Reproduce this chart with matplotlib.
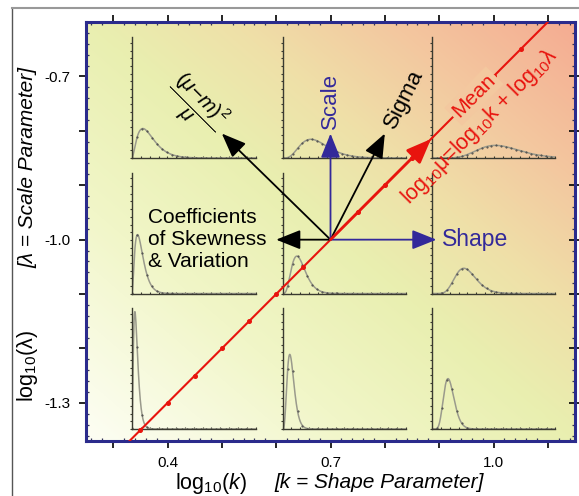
import math

import matplotlib
matplotlib.use("Agg")
import matplotlib.pyplot as plt
import numpy as np
from matplotlib.colors import LinearSegmentedColormap
from matplotlib.lines import Line2D
from matplotlib.ticker import MultipleLocator

plt.rcParams["font.family"] = ["Liberation Sans", "DejaVu Sans"]
plt.rcParams["mathtext.fontset"] = "custom"
plt.rcParams["mathtext.rm"] = "Liberation Sans"
plt.rcParams["mathtext.it"] = "Liberation Sans:italic"
plt.rcParams["mathtext.bf"] = "Liberation Sans:bold"

# --- data ---
LOG_K = [0.4, 0.7, 1.0]          # shape parameter per column of small plots
LOG_LAM = [-0.7, -1.0, -1.3]     # scale parameter per row of small plots
X_TICKS = [0.3, 0.4, 0.5, 0.6, 0.7, 0.8, 0.9, 1.0, 1.1]
X_TICK_LABELS = ["", "0.4", "", "", "0.7", "", "", "1.0", ""]
Y_TICKS = [-1.3, -1.2, -1.1, -1.0, -0.9, -0.8, -0.7]
Y_TICK_LABELS = ["-1.3", "", "", "-1.0", "", "", "-0.7"]

MEAN_LINE_X = [0.33, 1.10]
MEAN_LINE_Y = [-1.37, -0.60]
MEAN_DOT_X = [0.35, 0.40, 0.45, 0.50, 0.55, 0.60, 0.65, 0.75, 0.80, 0.85, 1.00, 1.05]
MEAN_DOT_Y = [-1.35, -1.30, -1.25, -1.20, -1.15, -1.10, -1.05, -0.95, -0.90, -0.85, -0.70, -0.65]

ORIGIN = (0.7, -1.0)
SCALE_TIP = (0.70, -0.805)
SHAPE_TIP = (0.895, -1.0)
SIGMA_TIP = (0.80, -0.805)
SKEW_TIP = (0.60, -1.0)
VAR_TIP = (0.50, -0.805)
MEAN_TIP = (0.885, -0.815)

# small-plot layout (data coords of lower-left corners)
INSET_X0 = [0.335, 0.612, 0.887]
INSET_Y0 = [-0.85, -1.099, -1.348]
INSET_W = 0.227
INSET_H = 0.222

XLIM = (0.25, 1.15)
YLIM = (-1.37, -0.60)

BLUE = "#33299a"
RED = "#e8140e"
FRAME = "#2b2b8c"

bg_cmap = LinearSegmentedColormap.from_list(
    "bg",
    [(0.0, "#fdfef4"), (0.28, "#f1f6c8"), (0.5, "#e9efb0"),
     (0.65, "#efe0a8"), (0.8, "#f3c9a0"), (1.0, "#f5ac92")],
)


def gamma_pdf(x, k, lam):
    return x ** (k - 1) * np.exp(-x / lam) / (math.gamma(k) * lam ** k)


fig = plt.figure(figsize=(5.79, 4.96), dpi=100)
ax = fig.add_axes([86 / 579, 55 / 496, 489 / 579, 419 / 496])

# background gradient
u, v = np.meshgrid(np.linspace(0, 1, 300), np.linspace(0, 1, 300))
ax.imshow((u + v) / 2, cmap=bg_cmap, extent=[*XLIM, *YLIM], origin="lower",
          aspect="auto", zorder=0, interpolation="bilinear")
ax.set_xlim(*XLIM)
ax.set_ylim(*YLIM)

for sp in ax.spines.values():
    sp.set_color(FRAME)
    sp.set_linewidth(2.2)

ax.set_xticks(X_TICKS)
ax.set_xticklabels(X_TICK_LABELS)
ax.set_yticks(Y_TICKS)
ax.set_yticklabels(Y_TICK_LABELS)
ax.xaxis.set_minor_locator(MultipleLocator(0.02))
ax.yaxis.set_minor_locator(MultipleLocator(0.02))
ax.tick_params(axis="x", which="major", direction="out", length=5, width=1.2,
               top=True, bottom=True, pad=6, labelsize=11)
ax.tick_params(axis="y", which="major", direction="out", length=5, width=1.2,
               left=True, right=False, pad=6, labelsize=11)
ax.tick_params(which="minor", direction="in", length=2, width=0.9, color="#333355",
               top=True, right=True)
sec = ax.secondary_yaxis("right")
sec.set_yticks(Y_TICKS)
sec.set_yticklabels([])
sec.tick_params(direction="inout", length=8, width=1.2)
sec.spines["right"].set_visible(False)

# small gamma density plots
xs = np.linspace(0.001, 3.5, 400)
for ci, lk in enumerate(LOG_K):
    for ri, ll in enumerate(LOG_LAM):
        iax = ax.inset_axes([INSET_X0[ci], INSET_Y0[ri], INSET_W, INSET_H],
                            transform=ax.transData, zorder=2)
        iax.patch.set_alpha(0)
        ys = gamma_pdf(xs, 10 ** lk, 10 ** ll)
        iax.plot(xs, ys, color="#9a9a8c", lw=1.1)
        iax.plot(xs[::16], ys[::16], ls="none", marker=".", ms=1.0, color="#444444")
        iax.set_xlim(0, 3.5)
        iax.set_ylim(0, 6.3)
        for s in ("top", "right"):
            iax.spines[s].set_visible(False)
        for s in ("left", "bottom"):
            iax.spines[s].set_color("#3a3a30")
            iax.spines[s].set_linewidth(1.0)
        iax.xaxis.set_major_locator(MultipleLocator(0.25))
        iax.yaxis.set_major_locator(MultipleLocator(0.4))
        iax.tick_params(length=1.5, width=0.8, color="#3a3a30",
                        labelbottom=False, labelleft=False)
        iax.tick_params(axis="x", direction="in")

# mean line with dots
ax.plot(MEAN_LINE_X, MEAN_LINE_Y, color=RED, lw=1.5, zorder=3)
ax.plot(MEAN_DOT_X, MEAN_DOT_Y, ls="none", marker="o", ms=2.6, color=RED, zorder=3)

# arrows
def arrow(tip, color, lw=1.3, ms=20):
    ax.annotate("", xy=tip, xytext=ORIGIN, zorder=5,
                arrowprops=dict(arrowstyle="-|>,head_length=0.75,head_width=0.3",
                                color=color, lw=lw, mutation_scale=ms,
                                shrinkA=0, shrinkB=0))


arrow(VAR_TIP, "black")
arrow(SKEW_TIP, "black")
arrow(SIGMA_TIP, "black")
arrow(SCALE_TIP, BLUE)
arrow(SHAPE_TIP, BLUE)
arrow(MEAN_TIP, RED, lw=2.0)

ax.text(0.70, -0.745, "Scale", color=BLUE, rotation=90, fontsize=16,
        ha="center", va="center", zorder=6)
ax.text(0.905, -1.0, "Shape", color=BLUE, fontsize=16.5, ha="left", va="center", zorder=6)
ax.text(0.836, -0.742, "Sigma", color="black", rotation=63, fontsize=16,
        ha="center", va="center", zorder=6)
ax.text(0.364, -1.0, "Coefficients\nof Skewness\n& Variation", fontsize=15,
        ha="left", va="center", linespacing=1.2, zorder=6)
ax.text(0.448, -0.755, r"$\dfrac{(\mu\mathrm{-}m)^2}{\mu}$", fontsize=15,
        rotation=-45, ha="center", va="center", zorder=6)

# mean label sits on the line; hide the line under it
mx, my = 0.964, -0.736
t_bg = ((mx - XLIM[0]) / (XLIM[1] - XLIM[0]) + (my - YLIM[0]) / (YLIM[1] - YLIM[0])) / 2
ax.text(mx, my, "Mean", color=RED, rotation=45, fontsize=15, ha="center",
        va="center", rotation_mode="anchor", zorder=6,
        bbox=dict(boxstyle="square,pad=0.15", fc=bg_cmap(t_bg), ec="none"))
ax.text(0.975, -0.792, r"log$_{10}$μ=log$_{10}$k + log$_{10}$λ", color=RED,
        rotation=45, fontsize=15.5, ha="center", va="center",
        rotation_mode="anchor", zorder=6)

# axis labels
fig.text(211 / 579, 1 - 483 / 496, r"log$_{10}$($\mathit{k}$)", fontsize=15.5,
         ha="center", va="center")
fig.text(379 / 579, 1 - 483 / 496, "[k = Shape Parameter]", fontsize=15,
         style="italic", ha="center", va="center")
fig.text(28 / 579, 1 - 366 / 496, r"log$_{10}$(λ)", fontsize=15.5, rotation=90,
         ha="center", va="center")
fig.text(28 / 579, 1 - 168 / 496, "[λ = Scale Parameter]", fontsize=15,
         style="italic", rotation=90, ha="center", va="center")

# outer frame
fig.add_artist(Line2D([12 / 579, 12 / 579], [0, 1 - 8 / 496], color="#555555",
                      lw=1.0, transform=fig.transFigure))
fig.add_artist(Line2D([12 / 579, 1], [1 - 8 / 496, 1 - 8 / 496], color="#999999",
                      lw=1.5, transform=fig.transFigure))

fig.savefig("out.png", dpi=100)
